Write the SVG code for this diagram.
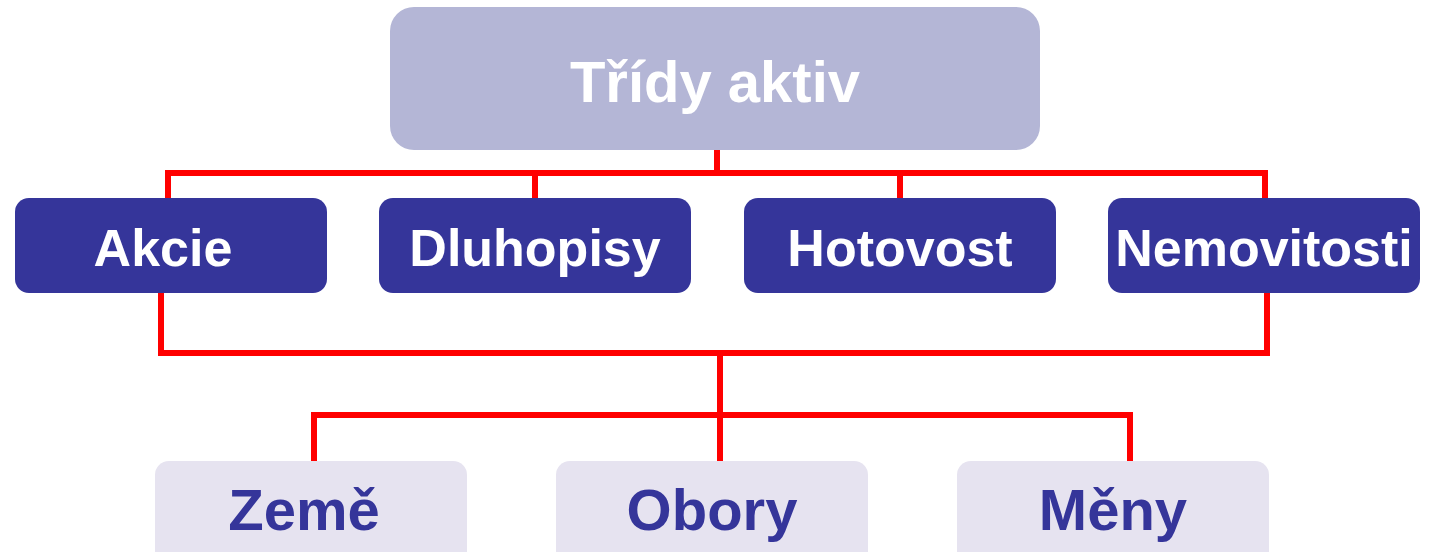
<svg xmlns="http://www.w3.org/2000/svg" width="1437" height="552" viewBox="0 0 1437 552">
  <style>
    .conn { fill: none; stroke: #ff0000; stroke-width: 6; stroke-linejoin: miter; stroke-linecap: square; }
    .top { fill: #b4b6d6; }
    .mid { fill: #35359a; }
    .low { fill: #e6e3f0; }
    .lbl { font-family: "Liberation Sans", Arial, sans-serif; font-weight: bold; text-anchor: middle; }
    .white { fill: #ffffff; }
    .blue { fill: #35359a; }
  </style>
  <rect width="1437" height="552" fill="#ffffff"/>

  <!-- connectors -->
  <g id="connectors">
    <path class="conn" d="M717 150 V173 M168 198 V173 H1265 V198 M535 173 V198 M900 173 V198"/>
    <path class="conn" d="M161 293 V353 H1267 V293 M720 353 V462 M314 462 V415 H1130 V462"/>
  </g>

  <!-- root -->
  <g id="node-tridy-aktiv">
    <rect class="top" x="390" y="7" width="650" height="143" rx="24"/>
    <text class="lbl white" x="715" y="102" font-size="58">Třídy aktiv</text>
  </g>

  <!-- asset classes -->
  <g id="node-akcie">
    <rect class="mid" x="15" y="198" width="312" height="95" rx="14"/>
    <text class="lbl white" x="163" y="266" font-size="52">Akcie</text>
  </g>
  <g id="node-dluhopisy">
    <rect class="mid" x="379" y="198" width="312" height="95" rx="14"/>
    <text class="lbl white" x="535" y="266" font-size="52">Dluhopisy</text>
  </g>
  <g id="node-hotovost">
    <rect class="mid" x="744" y="198" width="312" height="95" rx="14"/>
    <text class="lbl white" x="900" y="266" font-size="52">Hotovost</text>
  </g>
  <g id="node-nemovitosti">
    <rect class="mid" x="1108" y="198" width="312" height="95" rx="14"/>
    <text class="lbl white" x="1264" y="266" font-size="52">Nemovitosti</text>
  </g>

  <!-- breakdown -->
  <g id="node-zeme">
    <rect class="low" x="155" y="461" width="312" height="110" rx="14"/>
    <text class="lbl blue" x="304" y="530" font-size="58">Země</text>
  </g>
  <g id="node-obory">
    <rect class="low" x="556" y="461" width="312" height="110" rx="14"/>
    <text class="lbl blue" x="712" y="530" font-size="58">Obory</text>
  </g>
  <g id="node-meny">
    <rect class="low" x="957" y="461" width="312" height="110" rx="14"/>
    <text class="lbl blue" x="1113" y="530" font-size="58">Měny</text>
  </g>
</svg>
